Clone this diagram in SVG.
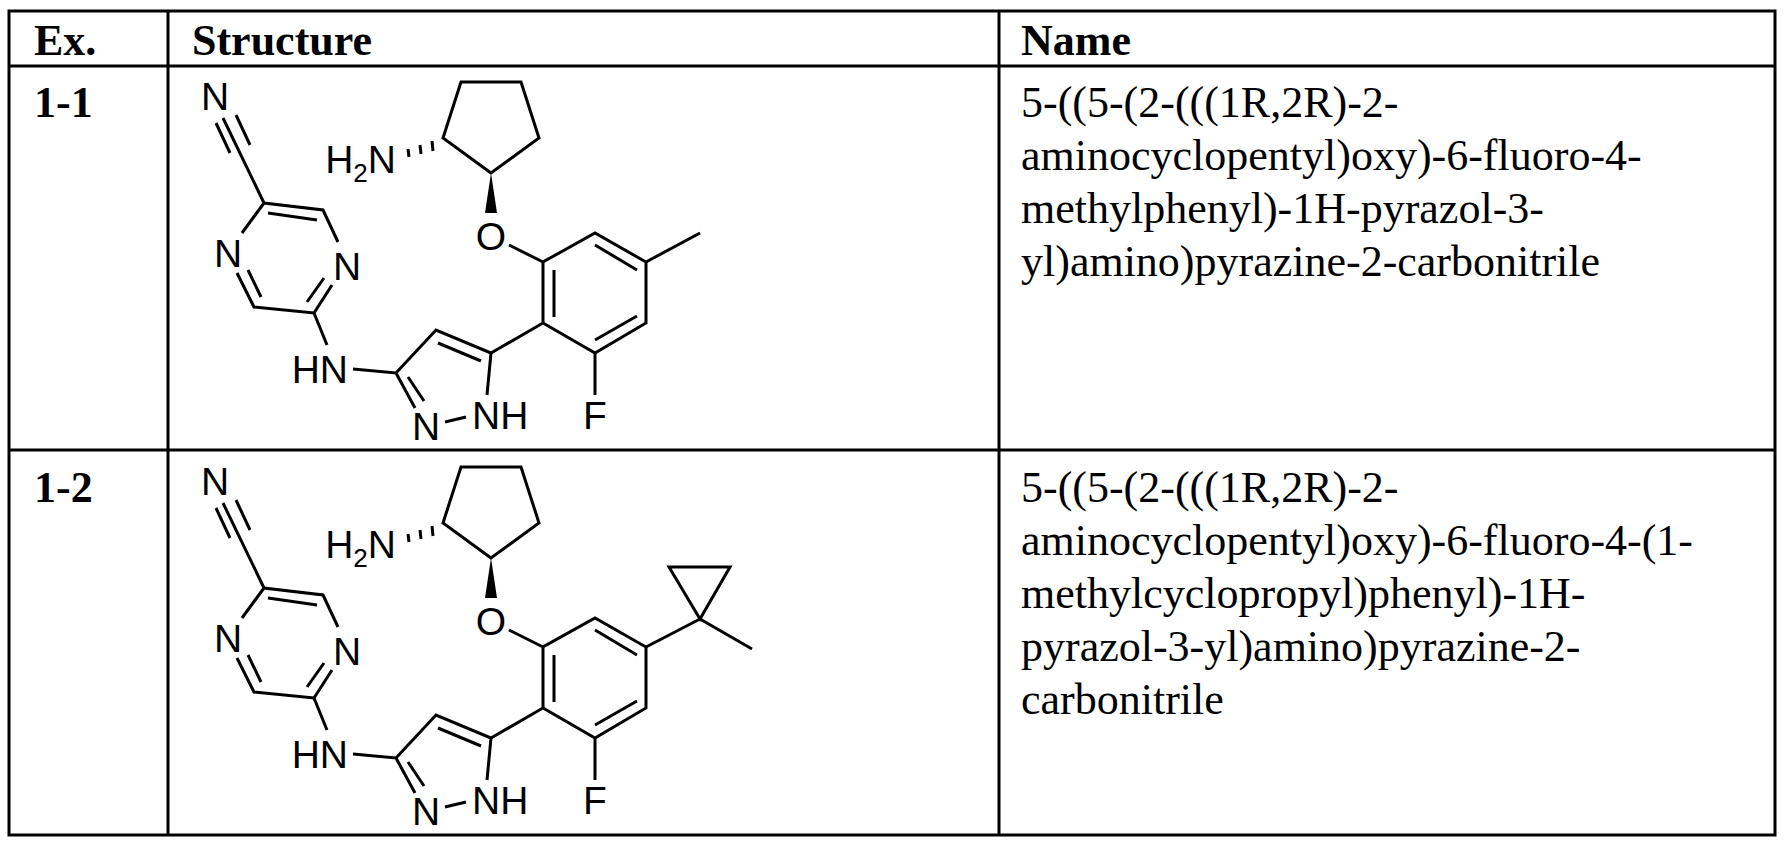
<svg xmlns="http://www.w3.org/2000/svg" width="1790" height="850" viewBox="0 0 1790 850">
<style>
.b{stroke:#000;stroke-width:3;fill:none;stroke-linecap:butt}
.t{font-family:"Liberation Serif","Times New Roman",serif;font-size:44px;fill:#000}
.h{font-weight:bold}
.a{font-family:"Liberation Sans",Arial,sans-serif;font-size:39px;fill:#000}
</style>
<rect width="1790" height="850" fill="#fff"/>
<g id="table" class="b">
<rect x="9" y="11" width="1766" height="824"/>
<line x1="9" y1="66" x2="1775" y2="66"/>
<line x1="9" y1="450" x2="1775" y2="450"/>
<line x1="168" y1="11" x2="168" y2="835"/>
<line x1="999" y1="11" x2="999" y2="835"/>
</g>
<g id="headers">
<text class="t h" x="34" y="55">Ex.</text>
<text class="t h" x="192" y="55">Structure</text>
<text class="t h" x="1021" y="55">Name</text>
</g>
<g id="row1-text">
<text class="t h" x="34" y="117">1-1</text>
<text class="t" x="1021" y="117">5-((5-(2-(((1R,2R)-2-</text>
<text class="t" x="1021" y="170">aminocyclopentyl)oxy)-6-fluoro-4-</text>
<text class="t" x="1021" y="223">methylphenyl)-1H-pyrazol-3-</text>
<text class="t" x="1021" y="276">yl)amino)pyrazine-2-carbonitrile</text>
</g>
<g id="row2-text">
<text class="t h" x="34" y="502">1-2</text>
<text class="t" x="1021" y="502">5-((5-(2-(((1R,2R)-2-</text>
<text class="t" x="1021" y="555">aminocyclopentyl)oxy)-6-fluoro-4-(1-</text>
<text class="t" x="1021" y="608">methylcyclopropyl)phenyl)-1H-</text>
<text class="t" x="1021" y="661">pyrazol-3-yl)amino)pyrazine-2-</text>
<text class="t" x="1021" y="714">carbonitrile</text>
</g>
<defs>
<g id="core">
<g class="b">
<path d="M223,118 L264,203 L323,210 L338,242 M332,285 L314,313 L254,307 L237,273 M242,233 L264,203"/>
<path d="M268,213 L317,220 M324,278 L307,302 M248,270 L261,297 M216,123 L230,153 M236,115 L250,145"/>
<path d="M314,313 L327,345 M353,369 L396,373 L436,330 L491,353 L487,395 M445,422 L466,417 M415,408 L396,373 M408,377 L424,401 M438,343 L481,361"/>
<path d="M491,353 L543,323 L543,262 L595,233 L646,262 L646,323 L595,353 L543,323 M554,270 L554,317 M595,245 L637,270 M637,316 L595,340 M595,353 L595,395 M509,245 L543,262"/>
<path d="M491,173 L443,138 L461,82 L521,82 L539,138 Z"/>
<path d="M408,149 L409,157 M420,145 L421,154 M432,141 L433,151"/>
</g>
<polygon points="491,173 485,213 497,213" fill="#000"/>
<text class="a" x="215" y="110" text-anchor="middle">N</text>
<text class="a" x="228" y="267" text-anchor="middle">N</text>
<text class="a" x="347" y="280" text-anchor="middle">N</text>
<text class="a" x="348" y="383" text-anchor="end">HN</text>
<text class="a" x="396" y="173" text-anchor="end">H<tspan font-size="26" dy="9">2</tspan><tspan dy="-9">N</tspan></text>
<text class="a" x="491" y="250" text-anchor="middle">O</text>
<text class="a" x="426" y="440" text-anchor="middle">N</text>
<text class="a" x="472" y="429">NH</text>
<text class="a" x="595" y="429" text-anchor="middle">F</text>
</g>
</defs>
<g id="structure-1-1">
<use href="#core"/>
<path class="b" d="M646,262 L700,233"/>
</g>
<g id="structure-1-2" transform="translate(0,385)">
<use href="#core"/>
<path class="b" d="M646,262 L700,234 M700,234 L669,182 L730,182 Z M700,234 L752,264"/>
</g>
</svg>
